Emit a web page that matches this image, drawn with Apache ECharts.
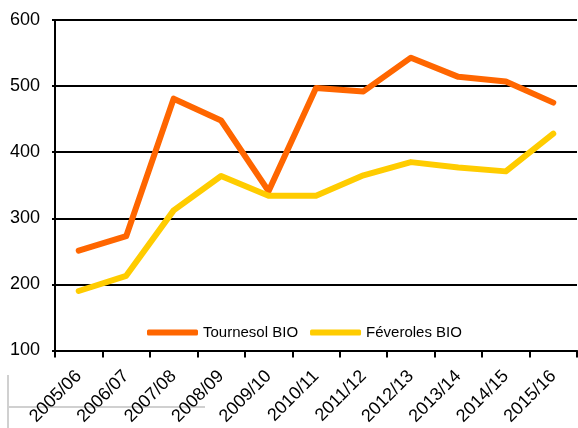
<!DOCTYPE html>
<html><head><meta charset="utf-8">
<script src="https://cdn.jsdelivr.net/npm/echarts@6/dist/echarts.min.js"></script>
<style>html,body{margin:0;padding:0;background:#fff}#c{width:578px;height:428px}</style>
</head><body><div id="c"></div>
<script>
const categories = ['2005/06','2006/07','2007/08','2008/09','2009/10','2010/11','2011/12','2012/13','2013/14','2014/15','2015/16'];
const tournesol = [251, 273, 481, 448, 341, 497, 492, 543, 514, 507, 475];
const feveroles = [190, 213, 312, 364, 334, 334, 365, 385, 377, 371, 428];
const seriesNames = ['Tournesol BIO', 'Féveroles BIO'];
const yTicks = [100, 200, 300, 400, 500, 600];

const font = "'Liberation Sans', Arial, sans-serif";
const chart = echarts.init(document.getElementById('c'));
chart.setOption({
  animation: false,
  grid: { left: 55, right: 1, top: 20, bottom: 76, containLabel: false },
  legend: {
    left: 142, top: 320, itemWidth: 51, itemHeight: 6, itemGap: 12,
    icon: 'roundRect',
    textStyle: { fontFamily: font, fontSize: 15, color: '#000' },
    data: seriesNames
  },
  xAxis: {
    type: 'category', data: categories, boundaryGap: true,
    axisLine: { lineStyle: { color: '#000', width: 2 } },
    axisTick: { show: true, length: 7, lineStyle: { color: '#000', width: 2 }, interval: 0 },
    axisLabel: { rotate: 45, interval: 0, fontFamily: font, fontSize: 18, color: '#000', margin: 23 }
  },
  yAxis: {
    type: 'value', min: yTicks[0], max: yTicks[yTicks.length-1], interval: 100,
    axisLine: { show: true, lineStyle: { color: '#000', width: 2 } },
    axisTick: { show: true, length: 3, lineStyle: { color: '#000', width: 2 } },
    splitLine: { lineStyle: { color: '#000', width: 2 } },
    axisLabel: { fontFamily: font, fontSize: 18, color: '#000', margin: 15 }
  },
  series: [
    { name: seriesNames[0], type: 'line', data: tournesol, symbol: 'none',
      lineStyle: { color: '#FF6600', width: 6, cap: 'round', join: 'round' }, itemStyle: { color: '#FF6600' } },
    { name: seriesNames[1], type: 'line', data: feveroles, symbol: 'none',
      lineStyle: { color: '#FFCC00', width: 6, cap: 'round', join: 'round' }, itemStyle: { color: '#FFCC00' } }
  ],
  graphic: [
    { type: 'line', shape: { x1: 8, y1: 375, x2: 8, y2: 428 }, style: { stroke: '#d0d0d0', lineWidth: 2 } },
    { type: 'line', shape: { x1: 8, y1: 407, x2: 205, y2: 407 }, style: { stroke: '#d0d0d0', lineWidth: 2 } }
  ]
});
</script></body></html>
